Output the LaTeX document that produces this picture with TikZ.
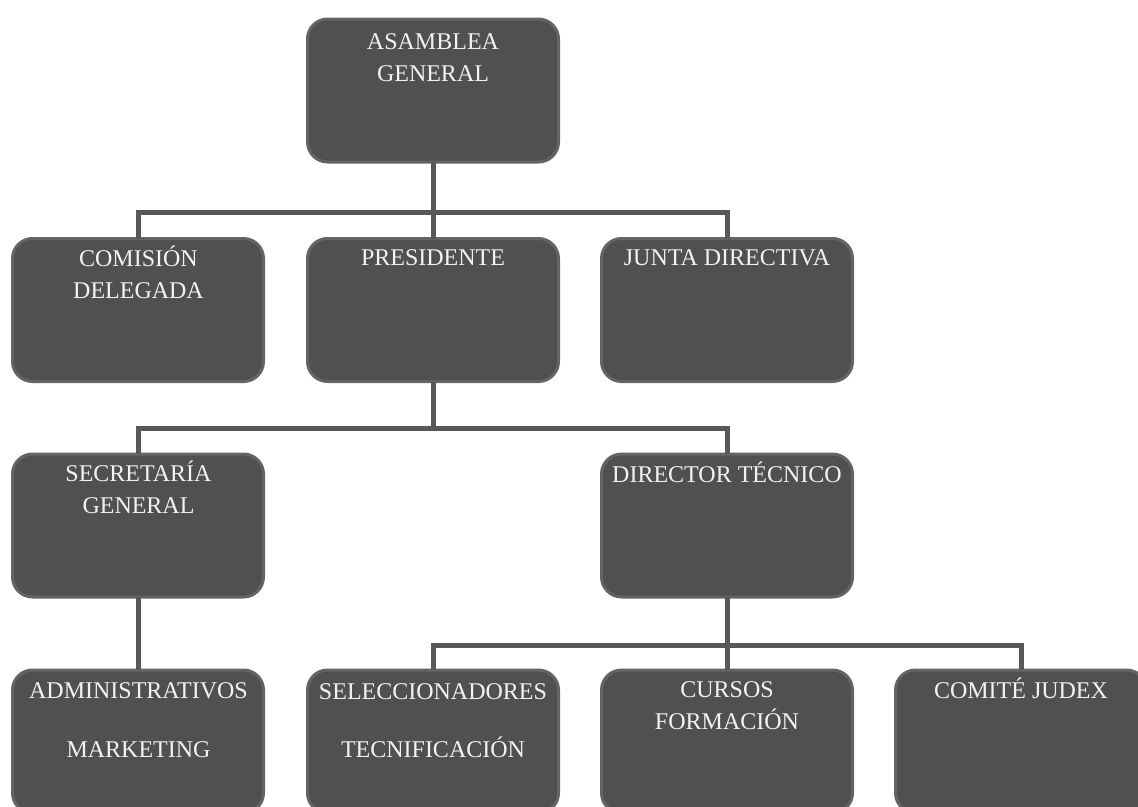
\documentclass[tikz,border=0pt]{standalone}
\usepackage{fontspec}
\setmainfont{Liberation Serif}
\definecolor{boxfill}{HTML}{505050}
\definecolor{boxedge}{HTML}{646464}
\definecolor{connc}{HTML}{585858}
\definecolor{txtc}{HTML}{F2F2F2}
\tikzset{
  box/.style={draw=boxedge, line width=3pt, fill=boxfill, rounded corners=20pt,
    minimum width=251pt, minimum height=143pt, anchor=north west, inner sep=0pt,
    outer sep=0pt},
  lbl/.style={text=txtc, anchor=base, align=center, inner sep=0pt,
    font=\fontsize{24pt}{32pt}\selectfont},
  conn/.style={draw=connc, line width=5pt}
}
\begin{document}
\begin{tikzpicture}[x=1pt,y=-1pt]
\useasboundingbox (0,0) rectangle (1138,806);
\clip (0,0) rectangle (1138,806);
% boxes
\node[box] (ag) at (307.5,19) {};
\node[box] (cd) at (12.5,238.5) {};
\node[box] (pr) at (307.5,238.5) {};
\node[box] (jd) at (601.5,238.5) {};
\node[box] (sg) at (12.5,454) {};
\node[box] (dt) at (601.5,454) {};
\node[box] (ad) at (12.5,670) {};
\node[box] (se) at (307.5,670) {};
\node[box] (cf) at (601.5,670) {};
\node[box] (cj) at (895.5,670) {};
% connectors
\coordinate (j1) at (433,212);
\coordinate (j2) at (433,428);
\coordinate (j3) at (727,645);
\draw[conn] (ag.south) -- (j1);
\draw[conn] (cd.north) |- (j1) -| (jd.north);
\draw[conn] (j1) -- (pr.north);
\draw[conn] (pr.south) -- (j2);
\draw[conn] (sg.north) |- (j2) -| (dt.north);
\draw[conn] (sg.south) -- (ad.north);
\draw[conn] (dt.south) -- (j3);
\draw[conn] (se.north) |- (j3) -| (cj.north);
\draw[conn] (j3) -- (cf.north);
% labels (anchor base = baseline of last line)
\node[lbl] (tag) at (433,81) {ASAMBLEA\\GENERAL};
\node[lbl] (tcd) at (138.5,298) {COMISIÓN\\DELEGADA};
\node[lbl] (tpr) at (433,265) {PRESIDENTE};
\node[lbl] (tjd) at (727,265) {JUNTA DIRECTIVA};
\node[lbl] (tsg) at (138.5,513) {SECRETARÍA\\GENERAL};
\node[lbl] (tdt) at (727,482) {DIRECTOR TÉCNICO};
\node[lbl] (tad) at (138.5,757) {ADMINISTRATIVOS\\[27pt]MARKETING};
\node[lbl] (tse) at (433,757) {SELECCIONADORES\\[26pt]TECNIFICACIÓN};
\node[lbl] (tcf) at (727,729) {CURSOS\\FORMACIÓN};
\node[lbl] (tcj) at (1021,698) {COMITÉ JUDEX};
\end{tikzpicture}
\end{document}
